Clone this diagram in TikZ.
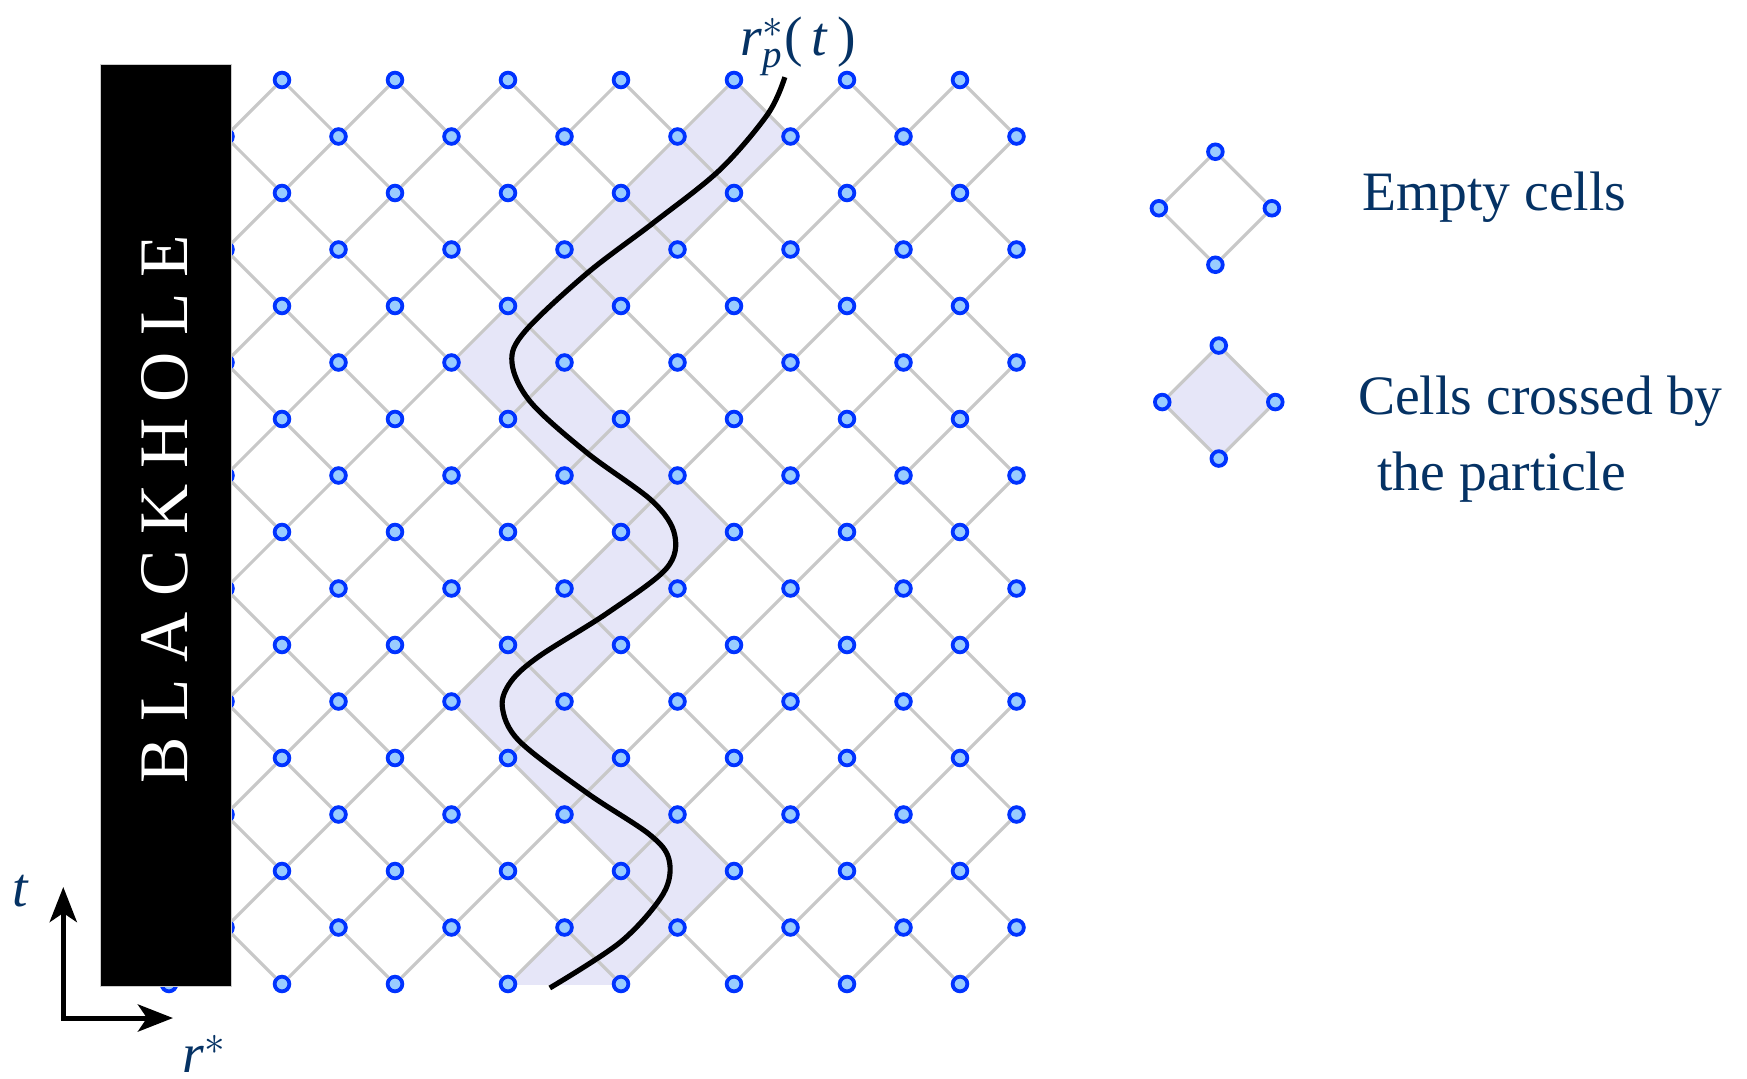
\documentclass[tikz,border=0pt]{standalone}
\usepackage{amsmath}
\usepackage{fontspec}
\setmainfont{Liberation Serif}
\newfontfamily\holefont[LetterSpace=23]{Liberation Serif}
\usetikzlibrary{arrows.meta}

\definecolor{labelblue}{RGB}{5,50,100}
\definecolor{gridgray}{RGB}{200,200,200}
\definecolor{dotblue}{RGB}{0,51,255}
\definecolor{dotfill}{RGB}{153,204,255}
\definecolor{cellfill}{RGB}{230,230,248}

\tikzset{
  dot/.style={circle, draw=dotblue, fill=dotfill, line width=1.9pt, inner sep=0pt, minimum size=0.26cm},
  lattice/.style={draw=gridgray, line width=1.6pt},
  particle/.style={draw=black, line width=2.6pt},
  lbl/.style={text=labelblue, inner sep=0pt, font=\fontsize{28}{38}\selectfont},
  holetext/.style={text=white, rotate=90, inner sep=0pt, font=\fontsize{35}{35}\holefont},
  axis/.style={line width=2.5pt, >={Stealth[length=0.62cm,width=0.48cm,inset=0.16cm]}, <->}
}

\begin{document}
\begin{tikzpicture}
  \useasboundingbox (-2.991,-1.664) rectangle (27.929,17.416);

  % cells crossed by the particle
  \begin{scope}
    \clip (-1,0) rectangle (16,16);
    \foreach \cx/\cy in {7/0,8/1,9/2,8/3,7/4,6/5,7/6,8/7,9/8,8/9,7/10,6/11,7/12,8/13,9/14,10/15}
      \fill[cellfill] (\cx-1,\cy) -- (\cx,\cy+1) -- (\cx+1,\cy) -- (\cx,\cy-1) -- cycle;
  \end{scope}

  % grid points
  \foreach \y in {0,...,16}{
    \pgfmathtruncatemacro\odd{mod(\y,2)}
    \foreach \i in {0,...,7}{
      \pgfmathtruncatemacro\x{2*\i+\odd}
      \node[dot] (d-\x-\y) at (\x,\y) {};
    }
  }
  % grid lines
  \foreach \y in {0,...,15}{
    \pgfmathtruncatemacro\yp{\y+1}
    \pgfmathtruncatemacro\odd{mod(\y,2)}
    \foreach \i in {0,...,7}{
      \pgfmathtruncatemacro\x{2*\i+\odd}
      \pgfmathtruncatemacro\xl{\x-1}
      \pgfmathtruncatemacro\xr{\x+1}
      \ifnum\x>0 \draw[lattice] (d-\x-\y) -- (d-\xl-\yp); \fi
      \ifnum\x<15 \draw[lattice] (d-\x-\y) -- (d-\xr-\yp); \fi
    }
  }

  % particle worldline
  \draw[particle] plot[smooth, tension=0.55] coordinates {(6.74,-0.07) (8.0,0.75) (8.75,1.6) (8.85,2.2) (8.5,2.65) (7.4,3.38) (6.2,4.3) (5.9,4.9) (6.05,5.35) (6.55,5.8) (7.75,6.56) (8.8,7.35) (8.95,7.95) (8.55,8.55) (7.4,9.4) (6.4,10.3) (6.07,11.0) (6.3,11.55) (7.4,12.58) (8.57,13.47) (9.75,14.41) (10.6,15.4) (10.9,16.05)};
  \node[lbl, anchor=base west] (rpt) at (10.11,16.44) {\textit{r}$^{*}_{\textit{p}}$(\,\textit{t}\,)};

  % black hole
  \path[fill=black, draw=gray!40] (-1.221,-0.035) rectangle (1.097,16.28);
  \node[holetext] (holename) at (-0.07,8.40) {BLACKHOLE};

  % axes
  \coordinate (origin) at (-1.871,-0.602);
  \coordinate (taxis) at (-1.871,1.717);
  \coordinate (raxis) at (0.07,-0.602);
  \draw[axis] (taxis) -- (origin) -- (raxis);
  \node[lbl, anchor=base] (tlabel) at (-2.63,1.38) {\textit{t}};
  \node[lbl, anchor=base west] (rlabel) at (0.23,-1.56) {\textit{r}$^{*}$};

  % legend
  \fill[cellfill] (17.58,10.30) -- (18.58,11.30) -- (19.58,10.30) -- (18.58,9.30) -- cycle;
  \foreach \k/\cx/\cy in {e/18.52/13.73, c/18.58/10.30}{
    \node[dot] (\k-t) at (\cx,\cy+1) {};
    \node[dot] (\k-r) at (\cx+1,\cy) {};
    \node[dot] (\k-b) at (\cx,\cy-1) {};
    \node[dot] (\k-l) at (\cx-1,\cy) {};
    \draw[lattice] (\k-t) -- (\k-r) -- (\k-b) -- (\k-l) -- (\k-t);
  }
  \node[lbl, anchor=base west] (emptytext) at (21.11,13.69) {Empty cells};
  \node[lbl, anchor=base west] (crosstext) at (21.04,10.08) {Cells crossed by};
  \node[lbl, anchor=base west] (crosstext2) at (21.38,8.74) {the particle};
\end{tikzpicture}
\end{document}
